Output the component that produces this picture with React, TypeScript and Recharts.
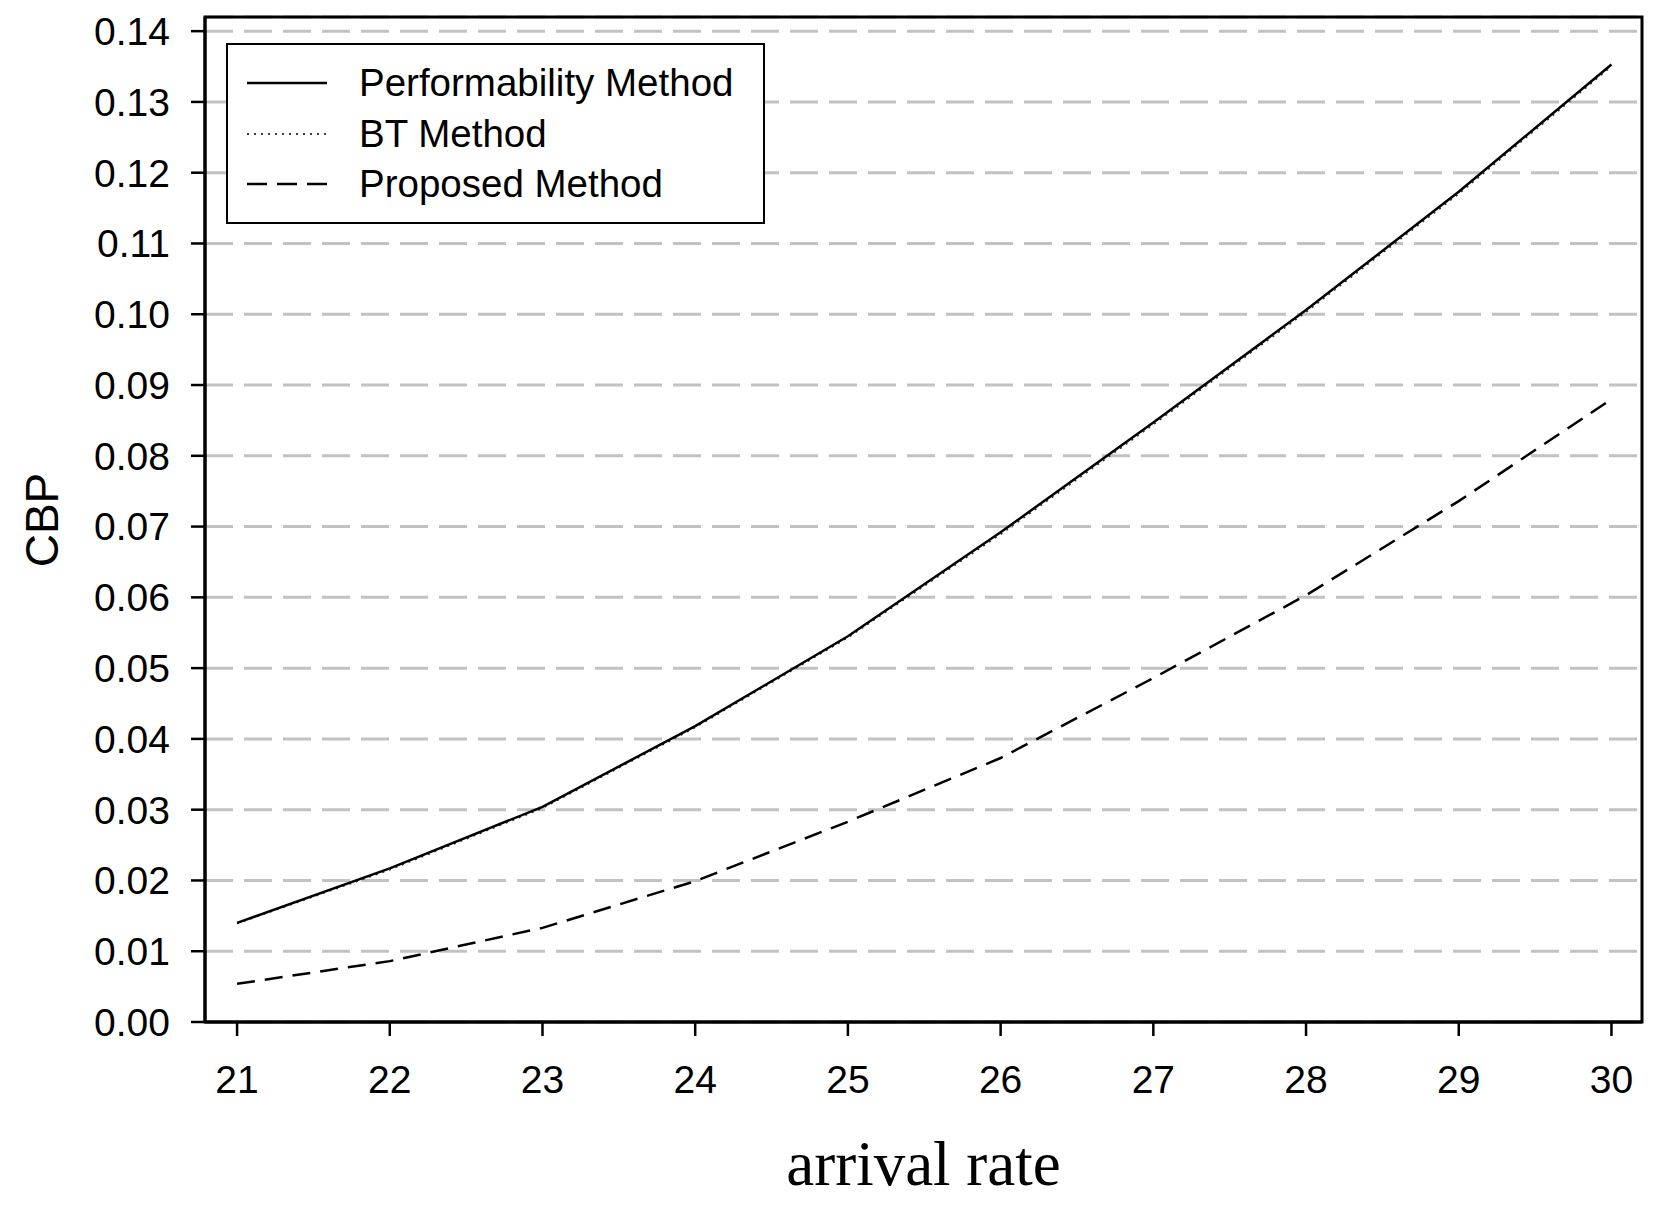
import React from 'react';
import { LineChart, Line, XAxis, YAxis, CartesianGrid, Legend, Label, ReferenceArea } from 'recharts';

// arrival rate (x) and CBP values
const arrivalRate = [21, 22, 23, 24, 25, 26, 27, 28, 29, 30];
const performability = [0.014, 0.0217, 0.0304, 0.0418, 0.0545, 0.0692, 0.0847, 0.1006, 0.1173, 0.1353];
const btMethod = [0.0139, 0.0215, 0.0302, 0.0416, 0.0543, 0.0689, 0.0844, 0.1003, 0.117, 0.135];
const proposed = [0.0054, 0.0086, 0.0133, 0.0199, 0.0283, 0.0373, 0.0486, 0.0603, 0.0736, 0.088];

const xTicks = [21, 22, 23, 24, 25, 26, 27, 28, 29, 30];
const yTicks = [0, 0.01, 0.02, 0.03, 0.04, 0.05, 0.06, 0.07, 0.08, 0.09, 0.1, 0.11, 0.12, 0.13, 0.14];

const seriesNames = ['Performability Method', 'BT Method', 'Proposed Method'];

const data = arrivalRate.map((x, i) => ({
  x,
  perf: performability[i],
  bt: btMethod[i],
  prop: proposed[i],
}));

const sans = '"Liberation Sans", Arial, sans-serif';
const serif = '"Liberation Serif", "Times New Roman", serif';

const X_DOMAIN: [number, number] = [20.79, 30.2];
const Y_DOMAIN: [number, number] = [0, 0.142];

const legendDash = ['', '2 5', '20 10'];
const legendWidth = [2.5, 1.5, 2.5];
const rowCenters = [38, 89, 139];

const LegendBox = () => (
  <div
    style={{
      width: 539,
      height: 181,
      border: '2.5px solid #000',
      boxSizing: 'border-box',
      background: '#fff',
      position: 'relative',
      fontFamily: sans,
      fontSize: 38.5,
      color: '#000',
    }}
  >
    {seriesNames.map((name, i) => (
      <div
        key={name}
        style={{
          position: 'absolute',
          left: 0,
          top: rowCenters[i] - 25,
          height: 50,
          display: 'flex',
          alignItems: 'center',
          whiteSpace: 'nowrap',
        }}
      >
        <svg width={131} height={50}>
          <line
            x1={19}
            x2={99}
            y1={25}
            y2={25}
            stroke="#000"
            strokeWidth={legendWidth[i]}
            strokeDasharray={legendDash[i] || undefined}
          />
        </svg>
        <span>{name}</span>
      </div>
    ))}
  </div>
);

const App = () => {
  return (
    <div style={{ width: 1642, height: 1193, background: '#fff' }}>
      <LineChart width={1642} height={1193} data={data} margin={{ top: 9, right: 8, left: 0, bottom: 0 }}>
        <CartesianGrid
          vertical={false}
          stroke="#c2c2c2"
          strokeWidth={3}
          strokeDasharray="28 11"
        />
        <XAxis
          dataKey="x"
          type="number"
          domain={X_DOMAIN}
          ticks={xTicks}
          allowDataOverflow
          height={179}
          tickSize={14}
          tickMargin={29}
          axisLine={{ stroke: '#000', strokeWidth: 3 }}
          tickLine={{ stroke: '#000', strokeWidth: 2.5 }}
          tick={{ fill: '#000', fontSize: 39, fontFamily: sans }}
        >
          <Label
            value="arrival rate"
            position="insideBottom"
            offset={16}
            style={{ fontFamily: serif, fontSize: 63, fill: '#000' }}
          />
        </XAxis>
        <YAxis
          type="number"
          domain={Y_DOMAIN}
          ticks={yTicks}
          allowDataOverflow
          width={197}
          tickSize={14}
          tickMargin={21}
          tickFormatter={(v: number) => v.toFixed(2)}
          axisLine={{ stroke: '#000', strokeWidth: 3 }}
          tickLine={{ stroke: '#000', strokeWidth: 2.5 }}
          tick={{ fill: '#000', fontSize: 39, fontFamily: sans }}
        >
          <Label
            content={() => (
              <text
                x={34}
                y={512}
                transform="rotate(-90 34 512)"
                textAnchor="middle"
                dominantBaseline="central"
                fontFamily={sans}
                fontSize={46}
                fill="#000"
              >
                CBP
              </text>
            )}
          />
        </YAxis>
        <ReferenceArea
          x1={X_DOMAIN[0]}
          x2={X_DOMAIN[1]}
          y1={Y_DOMAIN[0]}
          y2={Y_DOMAIN[1]}
          fill="none"
          stroke="#000"
          strokeWidth={3}
          ifOverflow="visible"
        />
        <Line
          type="linear"
          dataKey="bt"
          name={seriesNames[1]}
          stroke="#333"
          strokeWidth={1.5}
          strokeDasharray="2 5"
          dot={false}
          isAnimationActive={false}
        />
        <Line
          type="linear"
          dataKey="perf"
          name={seriesNames[0]}
          stroke="#000"
          strokeWidth={2.5}
          dot={false}
          isAnimationActive={false}
        />
        <Line
          type="linear"
          dataKey="prop"
          name={seriesNames[2]}
          stroke="#000"
          strokeWidth={2.5}
          strokeDasharray="18 10"
          dot={false}
          isAnimationActive={false}
        />
        <Legend
          layout="horizontal"
          verticalAlign="middle"
          align="center"
          content={() => <LegendBox />}
          wrapperStyle={{ position: 'absolute', left: 218, top: 34.5, width: 539, height: 181 }}
        />
      </LineChart>
    </div>
  );
};

export default App;
